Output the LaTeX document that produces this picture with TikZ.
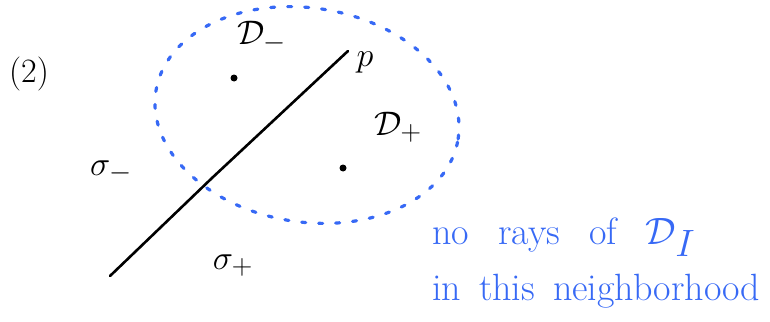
\documentclass[tikz,border=0pt]{standalone}
\usepackage{amsmath}
\usepackage{amssymb}
\usetikzlibrary{positioning}
\definecolor{penblue}{RGB}{55,105,245}
\newcommand{\bigsketch}[1]{\scalebox{1.37}{#1}}
\newcommand{\notefont}{\fontsize{38}{40}\selectfont\spaceskip=18pt\relax}
\tikzset{
    sketchlabel/.style={inner sep=0pt, font=\fontsize{24.88}{26}\selectfont},
    bluenote/.style={inner sep=0pt, anchor=base west, text=penblue, font=\notefont},
    dotpt/.style={circle, fill=black, inner sep=0pt, minimum size=7pt},
    wall/.style={line width=2.6pt, line cap=round, line join=round},
    nbhd/.style={draw=penblue, line width=3.2pt, dash pattern=on 4pt off 13pt, line cap=round},
}
\begin{document}
\begin{tikzpicture}[x=1pt, y=-1pt]
        \useasboundingbox (0,0) rectangle (770,321);

        % the wall through p
        \coordinate (s) at (110,276);
        \coordinate (m) at (212,178);
        \coordinate (p) at (348,51);
        \draw[wall] (s) -- (m) -- (p);

        % neighborhood of p
        \draw[nbhd, rotate around={-9:(307,115)}] (307,115) ellipse [x radius=153pt, y radius=107pt];

        % points
        \node[dotpt] (qm) at (234,78) {};
        \node[dotpt] (qp) at (343,168) {};

        % labels
        \node[sketchlabel] (num) at (29,74) {\bigsketch{(2)}};
        \node[sketchlabel] (plabel) at (365,62) {\bigsketch{$p$}};
        \node[sketchlabel] (dm) at (262,37) {\bigsketch{$\mathcal{D}_-$}};
        \node[sketchlabel] (dp) at (398,127) {\bigsketch{$\mathcal{D}_+$}};
        \node[sketchlabel] (sm) at (111,172) {\bigsketch{$\sigma_-$}};
        \node[sketchlabel] (sp) at (233,266) {\bigsketch{$\sigma_+$}};

        % note
        \node[bluenote] (note1) at (432,244) {\spaceskip=29pt no rays of \scalebox{1.53}{$\mathcal{D}_I$}};
        \node[bluenote] (note2) at (432,300) {in this neighborhood};
    \end{tikzpicture}
\end{document}
